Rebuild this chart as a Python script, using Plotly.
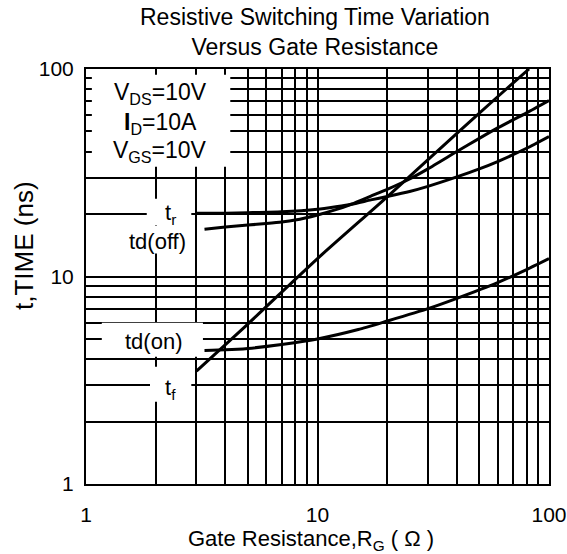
import plotly.graph_objects as go

# ---------------- data ----------------
rg_tr = [3, 4, 5, 7, 10, 12, 14, 17, 20, 25, 30, 40, 50, 60, 80, 100]
t_r = [20.2, 20.2, 20.3, 20.5, 21.1, 21.7, 22.3, 23.4, 24.3, 25.7, 27.2, 30.2, 33.0, 35.8, 41.5, 47.3]

rg_tdoff = [3.25, 4, 5, 6, 7, 8, 10, 12, 14, 17, 20, 25, 30, 40, 50, 60, 80, 100]
td_off = [16.9, 17.3, 17.7, 18.0, 18.3, 18.7, 19.8, 21.0, 22.3, 24.4, 26.3, 29.5, 33.0, 40.0, 46.3, 52.0, 61.5, 70.5]

rg_tdon = [3.25, 4, 5, 7, 10, 15, 20, 30, 40, 60, 80, 100]
td_on = [4.4, 4.43, 4.5, 4.7, 5.0, 5.55, 6.1, 7.0, 7.85, 9.35, 10.8, 12.2]

rg_tf = [3, 5, 10, 20, 40, 60, 82]
t_f = [3.5, 5.9, 12.2, 24.2, 49.0, 73.5, 100.0]

major_vals = [1, 10, 100]
major_text = ["1", "10", "100"]
minor_vals = [2, 3, 4, 5, 6, 7, 8, 9, 20, 30, 40, 50, 60, 70, 80, 90]

# ---------------- figure geometry ----------------
W, H = 567, 554
ML, MR, MT, MB = 86, 18, 69, 70
PW, PH = W - ML - MR, H - MT - MB


def px(x):
    return (x - ML) / PW


def py(y):
    return (H - MB - y) / PH


FONT = "Liberation Sans, Arial, sans-serif"

fig = go.Figure()
curve = dict(color="black", width=3, shape="spline", smoothing=0.6)
for xs, ys, nm in [(rg_tr, t_r, "tr"), (rg_tdoff, td_off, "td(off)"),
                   (rg_tdon, td_on, "td(on)"), (rg_tf, t_f, "tf")]:
    fig.add_trace(go.Scatter(x=xs, y=ys, mode="lines", line=curve, name=nm,
                             showlegend=False, hoverinfo="x+y"))

axis_common = dict(
    type="log", range=[0, 2], tickmode="array", tickvals=major_vals, ticktext=major_text,
    showgrid=True, gridcolor="black", gridwidth=1.6, showline=True, linecolor="black",
    linewidth=2, mirror=True, ticks="", tickfont=dict(family=FONT, size=21, color="black"),
    zeroline=False,
    minor=dict(tickmode="array", tickvals=minor_vals, showgrid=True, gridcolor="black",
               gridwidth=1.6, ticks=""),
)
fig.update_xaxes(**axis_common, ticklabelstandoff=11)
fig.update_yaxes(**axis_common, ticklabelstandoff=6)

# white boxes that interrupt the grid behind the labels (data coordinates)
boxes = [
    (1.06, 4.2, 33.8, 93.8),   # conditions box
    (1.83, 2.85, 17.7, 23.7),  # t_r
    (1.40, 2.92, 12.9, 17.6),  # td(off)
    (1.17, 3.2, 4.1, 5.98),    # td(on)
    (1.89, 2.85, 2.49, 3.67),  # t_f
]
for x0, x1, y0, y1 in boxes:
    fig.add_shape(type="rect", xref="x", yref="y", x0=x0, x1=x1, y0=y0, y1=y1,
                  fillcolor="white", line=dict(width=0), layer="between")

ann = []


def label(text, x, y, size=22, angle=0):
    ann.append(dict(text=text, x=px(x), y=py(y), xref="paper", yref="paper",
                    showarrow=False, xanchor="center", yanchor="middle", textangle=angle,
                    font=dict(family=FONT, size=size, color="black")))


label("Resistive Switching Time Variation<br>Versus Gate Resistance", 315, 32, size=23)
label("V<sub>DS</sub>=10V", 160, 94, size=23)
label("<b>I</b><sub>D</sub>=10A", 160, 123, size=23)
label("V<sub>GS</sub>=10V", 160, 151, size=23)
label("t<sub>r</sub>", 170, 214)
label("td(off)", 157, 241)
label("td(on)", 153, 341)
label("t<sub>f</sub>", 170, 389)
label("Gate Resistance,R<sub>G</sub> ( Ω )", 311, 540, size=22)
label("t,TIME (ns)", 24, 245, size=26, angle=-90)

fig.update_layout(
    width=W, height=H, margin=dict(l=ML, r=MR, t=MT, b=MB, autoexpand=False),
    paper_bgcolor="white", plot_bgcolor="white", annotations=ann,
    font=dict(family=FONT, color="black"),
)
fig.write_html("out.html", config={"displayModeBar": False},
               post_script="document.body.style.margin='0px';")
